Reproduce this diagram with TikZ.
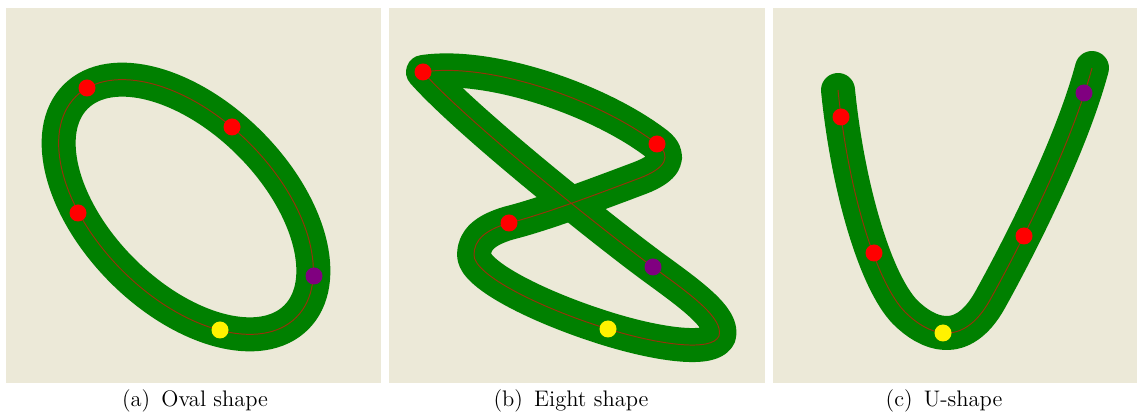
\documentclass[tikz,border=0pt]{standalone}
\usepackage{tikz}
\usetikzlibrary{positioning}
\definecolor{panelbg}{HTML}{ECE9D8}
\definecolor{tubegreen}{HTML}{008000}
\definecolor{spinebrown}{RGB}{150,50,10}
\definecolor{dotpurple}{HTML}{800080}
\begin{document}
\begin{tikzpicture}[x=0.02cm,y=-0.02cm,line join=round,
  tube/.style={line width=0.68cm,tubegreen,line cap=round},
  spine/.style={line width=0.55pt,spinebrown},
  marker/.style={radius=8.5},
  caption/.style={font=\fontsize{12.8}{15}\selectfont}]
\useasboundingbox (0,0) rectangle (1137,418);
% oval: tilted ellipse
\begin{scope}
\fill[panelbg] (6,8) rectangle (381,383);
\foreach \s in {tube,spine} {\draw[\s,rotate around={-45:(186,207)}] (186,207) ellipse[x radius=156,y radius=90];}
\foreach \p in {(87,88),(232,127),(78,213)} {\fill[red] \p circle[marker];}
\fill[dotpurple] (314,276) circle[marker];
\fill[yellow] (220,330) circle[marker];
\node[caption] (capa) at (195,401) {(a)\enskip Oval shape};
\end{scope}
% eight: closed self-crossing loop, sharp at the two far tips
\begin{scope}
\fill[panelbg] (389,8) rectangle (765,383);
\foreach \s in {tube,spine} {\draw[\s] (423,72) .. controls (490,62) and (600,100) .. (657,144)
  .. controls (672,156) and (666,168) .. (640,178)
  .. controls (600,193) and (545,214) .. (509,223)
  .. controls (485,230) and (474,240) .. (474,255)
  .. controls (474,275) and (540,308) .. (608,329)
  .. controls (660,345) and (712,352) .. (719,336)
  .. controls (724,318) and (690,294) .. (653,267)
  .. controls (616,240) and (470,125) .. cycle;}
\foreach \p in {(423,72),(657,144),(509,223)} {\fill[red] \p circle[marker];}
\fill[dotpurple] (653,267) circle[marker];
\fill[yellow] (608,329) circle[marker];
\node[caption] (capb) at (571,401) {(b)\enskip Eight shape};
\end{scope}
% U-shape: open curve with round ends
\begin{scope}
\fill[panelbg] (773,8) rectangle (1137,383);
\foreach \s in {tube,spine} {\draw[\s] (838,90) .. controls (848,190) and (876,282) .. (905,312)
  .. controls (927,334) and (962,350) .. (990,300)
  .. controls (1015,255) and (1070,150) .. (1092,68);}
\foreach \p in {(841,117),(874,253),(1024,236)} {\fill[red] \p circle[marker];}
\fill[dotpurple] (1084,93) circle[marker];
\fill[yellow] (943,333) circle[marker];
\node[caption] (capc) at (944,401) {(c)\enskip U-shape};
\end{scope}
\end{tikzpicture}
\end{document}
